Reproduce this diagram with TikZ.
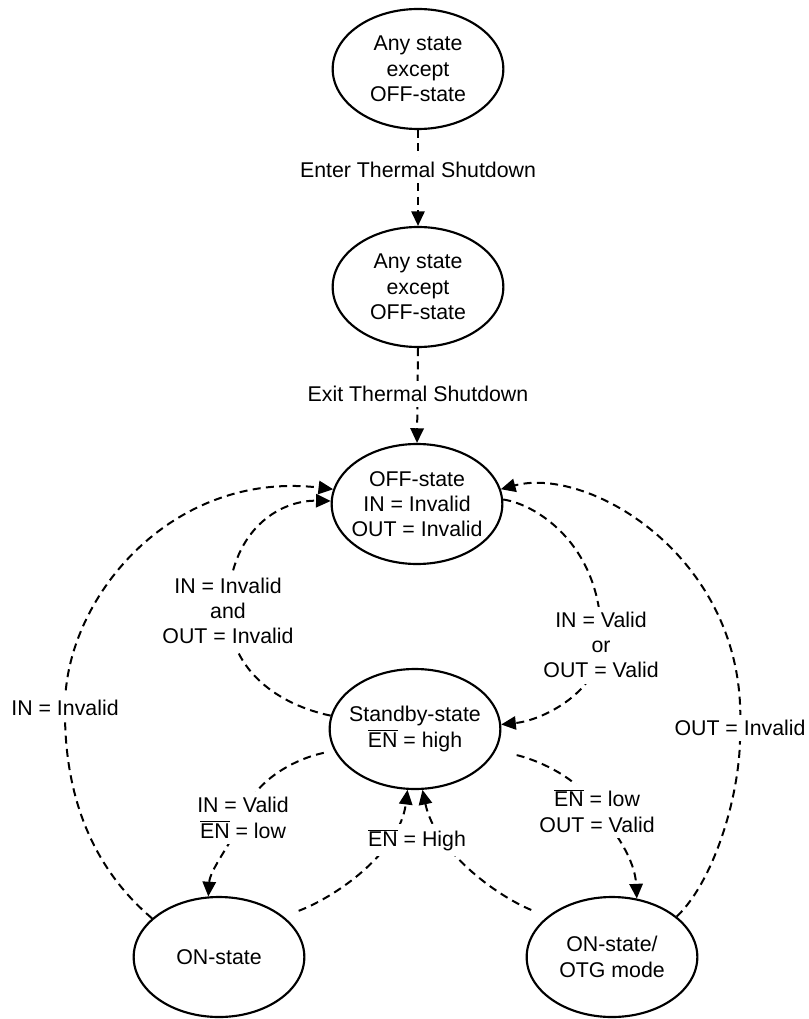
\documentclass[tikz,border=0pt]{standalone}
\usepackage{fontspec}
\setmainfont{Liberation Sans}
\usetikzlibrary{arrows.meta,shapes.geometric}
\pgfdeclarelayer{bg}
\pgfsetlayers{bg,main}
\newcommand{\ENbar}{$\overline{\mbox{EN}}$}
\begin{document}
\begin{tikzpicture}[x=0.75pt,y=-0.75pt,
  state/.style={ellipse,draw,line width=1.6pt,fill=white,minimum width=128pt,minimum height=90pt,inner xsep=-12pt,inner ysep=0pt,align=center,font=\fontsize{16}{19}\selectfont},
  lbl/.style={fill=white,inner sep=4pt,align=center,font=\fontsize{16}{19}\selectfont},
  conn/.style={line width=1.5pt,dash pattern=on 6pt off 4pt,-{Triangle[length=11pt,width=10pt]}},
]
\useasboundingbox (0,0) rectangle (808,1019);

\node[state] (t1) at (418,69) {Any state\\except\\OFF-state};
\node[state] (t2) at (418,287) {Any state\\except\\OFF-state};
\node[state] (off) at (417,504) {OFF-state\\IN = Invalid\\OUT = Invalid};
\node[state] (sb) at (415,729) {Standby-state\\\ENbar{} = high};
\node[state] (on) at (219,957) {ON-state};
\node[state] (otg) at (612,957) {ON-state/\\OTG mode};

\node[lbl] (l1) at (418,170) {Enter Thermal Shutdown};
\node[lbl] (l2) at (418,394) {Exit Thermal Shutdown};
\node[lbl] (lA) at (65,708) {IN = Invalid};
\node[lbl] (lB) at (228,611) {IN = Invalid\\and\\OUT = Invalid};
\node[lbl] (lC) at (601,645) {IN = Valid\\or\\OUT = Valid};
\node[lbl] (lD) at (740,728) {OUT = Invalid};
\node[lbl] (lE) at (243,818) {IN = Valid\\\ENbar{} = low};
\node[lbl] (lF) at (417,840) {\ENbar{} = High};
\node[lbl] (lG) at (597,811) {\ENbar{} = low\\OUT = Valid};

\begin{pgfonlayer}{bg}
\draw[conn] (t1.south) -- (t2.north);
\draw[conn] (t2.south) -- (off.north);
\draw[conn] (on.150) .. controls (95,870) and (64,800) .. (lA.center) .. controls (64,600) and (170,470) .. (off.170);
\draw[conn] (sb.171) .. controls (280,705) and (230,672) .. (lB.center) .. controls (228,530) and (280,500) .. (off.178);
\draw[conn] (off.3) .. controls (540,505) and (605,550) .. (lC.center) .. controls (600,690) and (545,720) .. (sb.3);
\draw[conn] (otg.32) .. controls (715,880) and (742,790) .. (lD.center) .. controls (748,560) and (590,465) .. (off.10);
\draw[conn,shorten <=8pt] (sb.195) .. controls (290,760) and (250,785) .. (lE.center) .. controls (230,845) and (210,870) .. (on.100);
\draw[conn,shorten <=12pt] (on.32) .. controls (340,895) and (400,850) .. (sb.263);
\draw[conn,shorten <=13pt] (otg.148) .. controls (495,895) and (435,850) .. (sb.277);
\draw[conn,shorten <=16pt] (sb.345) .. controls (530,758) and (580,775) .. (lG.center) .. controls (615,830) and (635,860) .. (otg.67);
\end{pgfonlayer}
\end{tikzpicture}
\end{document}
